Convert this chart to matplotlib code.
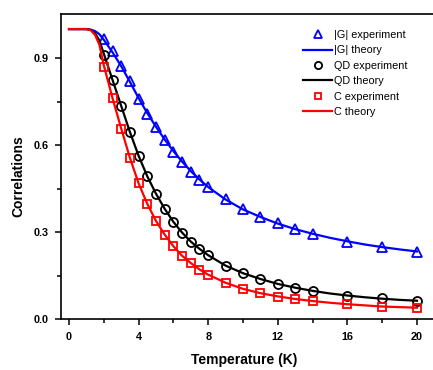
import matplotlib
matplotlib.use("Agg")
import matplotlib.pyplot as plt

plt.rcParams['font.family'] = ['Liberation Sans', 'DejaVu Sans']

# experiment temperatures
T_exp = [2, 2.5, 3, 3.5, 4, 4.5, 5, 5.5, 6, 6.5, 7, 7.5, 8, 9, 10, 11, 12, 13, 14, 16, 18, 20]
G_exp = [0.965, 0.924, 0.872, 0.82, 0.759, 0.707, 0.662, 0.617, 0.577, 0.542, 0.508, 0.479,
         0.456, 0.413, 0.379, 0.353, 0.330, 0.309, 0.293, 0.267, 0.249, 0.232]
QD_exp = [0.909, 0.824, 0.734, 0.646, 0.562, 0.492, 0.431, 0.378, 0.334, 0.298, 0.267, 0.241,
          0.221, 0.183, 0.158, 0.137, 0.120, 0.108, 0.098, 0.080, 0.071, 0.063]
C_exp = [0.870, 0.762, 0.656, 0.556, 0.468, 0.397, 0.337, 0.291, 0.251, 0.216, 0.193, 0.170,
         0.153, 0.125, 0.103, 0.089, 0.077, 0.069, 0.062, 0.051, 0.042, 0.039]

# theory curves
T_th = [0, 0.5, 1.0, 1.25, 1.5, 1.75, 2.0, 2.5, 3.0, 3.5, 4.0, 4.5, 5.0, 5.5, 6.0, 6.5, 7.0,
        7.5, 8.0, 9, 10, 11, 12, 13, 14, 15, 16, 17, 18, 19, 20]
G_th = [1.0, 1.0, 1.0, 0.998, 0.993, 0.982, 0.963, 0.92, 0.872, 0.818, 0.762, 0.71, 0.663,
        0.619, 0.579, 0.543, 0.51, 0.481, 0.455, 0.412, 0.378, 0.352, 0.329, 0.31, 0.294,
        0.28, 0.268, 0.257, 0.248, 0.24, 0.233]
QD_th = [1.0, 1.0, 1.0, 0.997, 0.985, 0.96, 0.915, 0.825, 0.735, 0.645, 0.563, 0.492, 0.432,
         0.38, 0.335, 0.298, 0.267, 0.242, 0.22, 0.184, 0.158, 0.138, 0.121, 0.108, 0.097,
         0.088, 0.081, 0.075, 0.07, 0.066, 0.063]
C_th = [1.0, 1.0, 1.0, 0.996, 0.98, 0.945, 0.875, 0.762, 0.657, 0.556, 0.468, 0.397, 0.338,
        0.291, 0.251, 0.218, 0.193, 0.171, 0.153, 0.125, 0.104, 0.089, 0.078, 0.069, 0.062,
        0.056, 0.051, 0.047, 0.043, 0.041, 0.039]

x_ticks = [0, 4, 8, 12, 16, 20]
y_ticks = [0.0, 0.3, 0.6, 0.9]

W, H = 433, 370
fig = plt.figure(figsize=(W / 100, H / 100), dpi=100)
ax = fig.add_axes([61 / W, (H - 319) / H, (W - 61) / W, (319 - 14) / H])

blue, black, red = '#0000ff', '#000000', '#ff0000'
mk = dict(linestyle='none', markerfacecolor='none', markeredgewidth=1.3)

ax.plot(T_exp, G_exp, marker='^', color=blue, markersize=7, label='|G| experiment', **mk)
ax.plot(T_th, G_th, color=blue, lw=1.6, label='|G| theory')
ax.plot(T_exp, QD_exp, marker='o', color=black, markersize=6.5, label='QD experiment', **mk)
ax.plot(T_th, QD_th, color=black, lw=1.6, label='QD theory')
ax.plot(T_exp, C_exp, marker='s', color=red, markersize=5.5, label='C experiment', **mk)
ax.plot(T_th, C_th, color=red, lw=1.6, label='C theory')

ax.set_xlim(-0.46, 20.92)
ax.set_ylim(0, 1.052)
ax.set_xticks(x_ticks)
ax.set_xticks([2, 6, 10, 14, 18], minor=True)
ax.set_yticks(y_ticks)
ax.set_yticks([0.15, 0.45, 0.75], minor=True)
ax.set_xticklabels([str(v) for v in x_ticks], fontweight='bold', fontsize=7.8)
ax.set_yticklabels(['%.1f' % v for v in y_ticks], fontweight='bold', fontsize=7.8)
ax.tick_params(which='major', direction='out', length=4.5, width=1.1, pad=4.5)
ax.tick_params(which='minor', direction='out', length=3, width=1.1)
ax.spines['right'].set_visible(False)
for s in ['left', 'top', 'bottom']:
    ax.spines[s].set_linewidth(1.2)

ax.set_xlabel('Temperature (K)', fontweight='bold', fontsize=10)
ax.xaxis.set_label_coords((244 - 61) / 372, -(353 - 319) / 305)
ax.set_ylabel('Correlations', fontweight='bold', fontsize=10)
ax.yaxis.set_label_coords(-(61 - 25) / 372, (319 - 176) / 305)

leg = ax.legend(loc='upper left', bbox_to_anchor=((303 - 61) / 372, (319 - 30) / 305),
                frameon=False, fontsize=7.8, handlelength=2.7, handletextpad=0.15,
                labelspacing=0.5, borderpad=0, borderaxespad=0, markerscale=0.8)

fig.savefig('out.png', dpi=100)
